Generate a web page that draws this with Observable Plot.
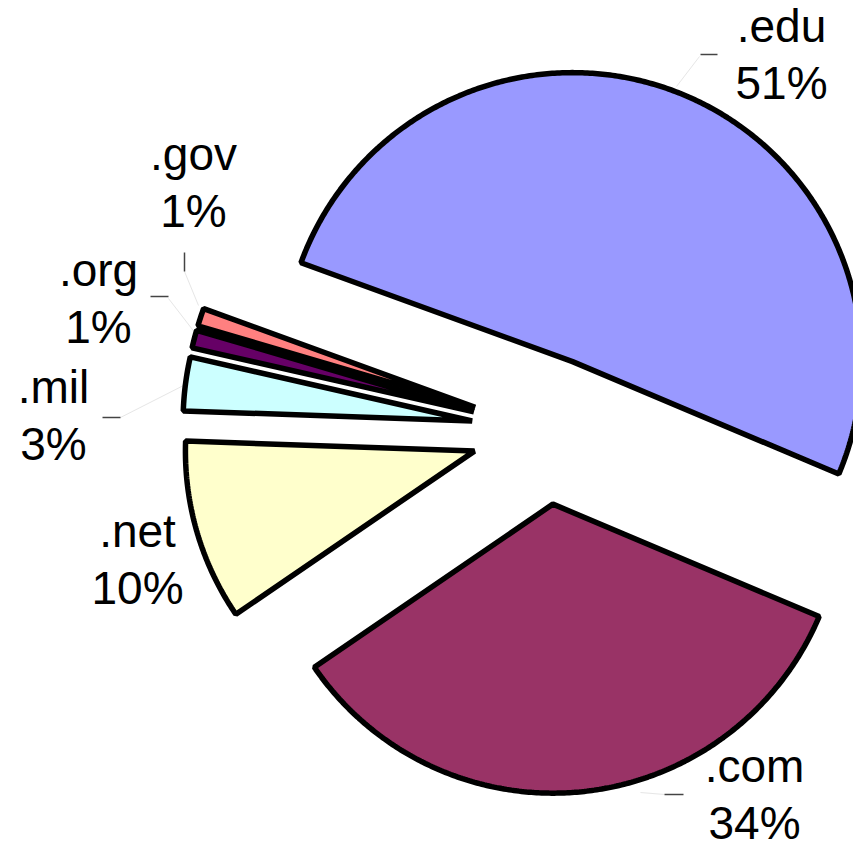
<!DOCTYPE html>
<html>
<head>
<meta charset="utf-8">
<script src="https://cdn.jsdelivr.net/npm/d3@7"></script>
<script src="https://cdn.jsdelivr.net/npm/@observablehq/plot@0.6"></script>
<style>
  html, body { margin: 0; padding: 0; background: #fff; }
  #chart svg { display: block; }
</style>
</head>
<body>
<div id="chart"></div>
<script>
// ---- data ----
const names  = [".edu", ".com", ".net", ".mil", ".org", ".gov"];
const shares = [50.8, 34.1, 10.1, 3.0, 1.0, 1.0];
const pctLabels = ["51%", "34%", "10%", "3%", "1%", "1%"];
const colors = ["#9999FF", "#993366", "#FFFFCC", "#CCFFFF", "#660066", "#FF8080"];

// ---- layout (not data) ----
const startAngle = 290;   // degrees, clockwise from 12 o'clock
const R = 289;            // pie radius (plot units)
const explode = 74;       // explosion distance
// label block anchor (top-centre) relative to pie centre
const labelSpot = {
  ".edu": [236, 429], ".com": [209, -311], ".net": [-408, -76],
  ".mil": [-492, 68], ".org": [-447, 185], ".gov": [-352, 301]
};
// short leader ticks and faint connector lines
const ticks = [
  [155, 376, 172, 376], [119, -364, 138, -364], [-443, 13, -425, 13],
  [-395, 134, -377, 134], [-361, 178, -361, 159]
];
const faint = [
  [154, 374, 131, 344], [119, -364, 95, -362], [-425, 13, -362, 45],
  [-377, 132, -350, 97], [-361, 159, -347, 125]
];

// ---- geometry from shares ----
const total = d3.sum(shares);
const rad = a => a * Math.PI / 180;
let acc = startAngle;
const slicePts = [];
const labelData = [];
names.forEach((name, i) => {
  const span = shares[i] / total * 360;
  const a0 = acc, a1 = acc + span;
  acc = a1;
  const mid = (a0 + a1) / 2;
  const ox = explode * Math.sin(rad(mid));
  const oy = explode * Math.cos(rad(mid));
  slicePts.push({name, x: ox, y: oy});
  const steps = Math.max(4, Math.ceil(span / 0.5));
  for (let k = 0; k <= steps; k++) {
    const a = a0 + span * k / steps;
    slicePts.push({name, x: ox + R * Math.sin(rad(a)), y: oy + R * Math.cos(rad(a))});
  }
  const [lx, ly] = labelSpot[name];
  labelData.push({name, x: lx, y: ly, text: name + "\n" + pctLabels[i]});
});

const chart = Plot.plot({
  width: 853,
  height: 849,
  margin: 0,
  x: {domain: [-545, 308], axis: null},
  y: {domain: [-419, 430], axis: null},
  color: {domain: names, range: colors},
  marks: [
    Plot.link(faint, {x1: d => d[0], y1: d => d[1], x2: d => d[2], y2: d => d[3], stroke: "#e6e6e6", strokeWidth: 1}),
    Plot.link(ticks, {x1: d => d[0], y1: d => d[1], x2: d => d[2], y2: d => d[3], stroke: "#444", strokeWidth: 1.5}),
    Plot.line(slicePts, {
      x: "x", y: "y", z: "name", fill: "name",
      stroke: "black", strokeWidth: 5.5, strokeLinejoin: "miter",
      curve: "linear-closed"
    }),
    Plot.text(labelData, {
      x: "x", y: "y", text: "text",
      lineAnchor: "top", textAnchor: "middle",
      fontSize: 46, lineHeight: 1.24,
      fontFamily: "Liberation Sans, Arial, sans-serif",
      fill: "black"
    })
  ]
});
document.getElementById("chart").appendChild(chart);
</script>
</body>
</html>
